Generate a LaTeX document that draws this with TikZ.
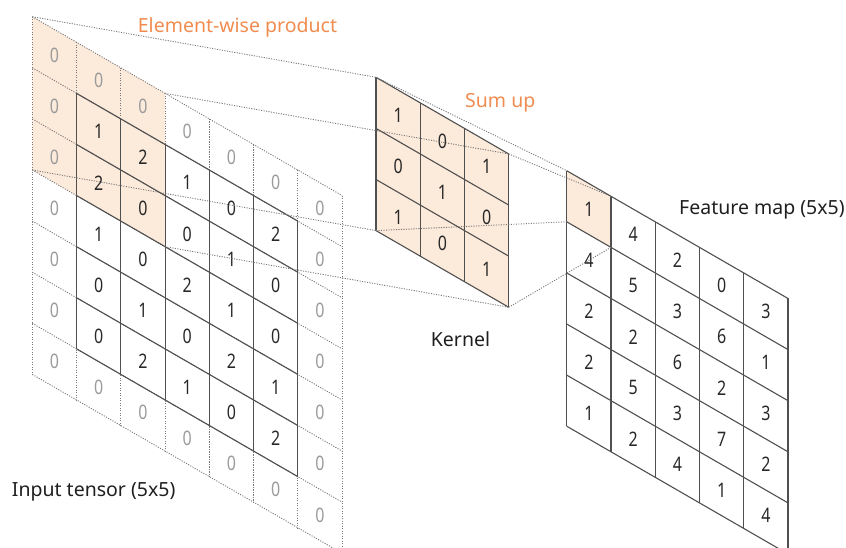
\documentclass[tikz,border=0pt]{standalone}
\usepackage{fontspec}
\setmainfont{Noto Sans}
\usepackage{graphicx}
\definecolor{hl}{RGB}{252,234,218}
\definecolor{org}{RGB}{240,140,80}
\definecolor{gridc}{RGB}{80,80,80}
\definecolor{dotc}{RGB}{120,120,120}
\definecolor{padtxt}{RGB}{155,155,155}
\definecolor{numtxt}{RGB}{40,40,40}
\newcommand\dg[1]{\scalebox{0.8}[1]{#1}}
\tikzset{
 solidgrid/.style={draw=gridc, line width=1.1pt},
 dotgrid/.style={draw=dotc, line width=0.9pt, dash pattern=on 1.1pt off 1.4pt},
 proj/.style={draw=dotc, line width=0.9pt, dash pattern=on 1.1pt off 1.4pt},
 num/.style={font=\fontsize{20}{20}\selectfont, text=numtxt, inner sep=0pt},
 padnum/.style={num, text=padtxt},
 lbl/.style={font=\fontsize{19.5}{20}\selectfont, anchor=base west, inner sep=0pt, text=black!88},
 orglbl/.style={lbl, text=org},
 plane/.style={x={(44.25pt,-25.55pt)}, y={(0pt,-51.1pt)}}
}
\begin{document}
\begin{tikzpicture}[x=1pt,y=-1pt]
\useasboundingbox (0,0) rectangle (846,547);
\clip (0,0) rectangle (846,547);

% ---------- Input tensor ----------
\begin{scope}[shift={(32.3pt,-16.7pt)}, plane]
 \fill[hl] (0,0) -- (3,0) -- (3,3) -- (0,3) -- cycle;
 \foreach \i in {0,...,7} {
   \draw[dotgrid] (0,\i) -- (7,\i);
   \draw[dotgrid] (\i,0) -- (\i,7);
 }
 \foreach \i in {1,...,6} {
   \draw[solidgrid] (1,\i) -- (6,\i);
   \draw[solidgrid] (\i,1) -- (\i,6);
 }
 \foreach \c in {0,...,6} {
   \node[padnum] (in-0-\c) at ({\c+0.5},0.5) {\dg{0}};
   \node[padnum] (in-6-\c) at ({\c+0.5},6.5) {\dg{0}};
 }
 \foreach \r in {1,...,5} {
   \node[padnum] (in-\r-0) at (0.5,{\r+0.5}) {\dg{0}};
   \node[padnum] (in-\r-6) at (6.5,{\r+0.5}) {\dg{0}};
 }
 \foreach \r/\vals in {1/{1,2,1,0,2},2/{2,0,0,1,0},3/{1,0,2,1,0},4/{0,1,0,2,1},5/{0,2,1,0,2}} {
   \foreach \v [count=\c] in \vals {
     \node[num] (in-\r-\c) at ({\c+0.5},{\r+0.5}) {\dg{\v}};
   }
 }
 \coordinate (in-tl) at (0,0);
 \coordinate (in-tr) at (3,0);
 \coordinate (in-bl) at (0,3);
 \coordinate (in-br) at (3,3);
\end{scope}

% ---------- Kernel ----------
\begin{scope}[shift={(376pt,-77.3pt)}, plane]
 \fill[hl] (0,0) -- (3,0) -- (3,3) -- (0,3) -- cycle;
 \foreach \i in {0,...,3} {
   \draw[solidgrid] (0,\i) -- (3,\i);
   \draw[solidgrid] (\i,0) -- (\i,3);
 }
 \foreach \r/\vals in {0/{1,0,1},1/{0,1,0},2/{1,0,1}} {
   \foreach \v [count=\c from 0] in \vals {
     \node[num] (k-\r-\c) at ({\c+0.5},{\r+0.5}) {\dg{\v}};
   }
 }
 \coordinate (k-tl) at (0,0);
 \coordinate (k-tr) at (3,0);
 \coordinate (k-bl) at (0,3);
 \coordinate (k-br) at (3,3);
\end{scope}

% ---------- Feature map ----------
\begin{scope}[shift={(566.7pt,-170.7pt)}, plane]
 \fill[hl] (0,0) -- (1,0) -- (1,1) -- (0,1) -- cycle;
 \foreach \i in {0,...,5} {
   \draw[solidgrid] (0,\i) -- (5,\i);
   \draw[solidgrid] (\i,0) -- (\i,5);
 }
 \foreach \r/\vals in {0/{1,4,2,0,3},1/{4,5,3,6,1},2/{2,2,6,2,3},3/{2,5,3,7,2},4/{1,2,4,1,4}} {
   \foreach \v [count=\c from 0] in \vals {
     \node[num] (f-\r-\c) at ({\c+0.5},{\r+0.5}) {\dg{\v}};
   }
 }
 \coordinate (f-tl) at (0,0);
 \coordinate (f-tr) at (1,0);
 \coordinate (f-bl) at (0,1);
 \coordinate (f-br) at (1,1);
\end{scope}

% ---------- Projection lines ----------
\draw[proj] (in-tl) -- (k-tl);
\draw[proj] (in-tr) -- (k-tr);
\draw[proj] (in-bl) -- (k-bl);
\draw[proj] (in-br) -- (k-br);
\draw[proj] (k-tl) -- (f-tl);
\draw[proj] (k-tr) -- (f-tr);
\draw[proj] (k-bl) -- (f-bl);
\draw[proj] (k-br) -- (f-br);

% ---------- Labels ----------
\node[orglbl] (lab-ew) at (137.7,32.3) {Element-wise product};
\node[orglbl] (lab-sum) at (465,107.7) {Sum up};
\node[lbl] (lab-k) at (430.7,346.7) {Kernel};
\node[lbl] (lab-f) at (679,214) {Feature map (5x5)};
\node[lbl] (lab-in) at (11.7,496.7) {Input tensor (5x5)};
\end{tikzpicture}
\end{document}
